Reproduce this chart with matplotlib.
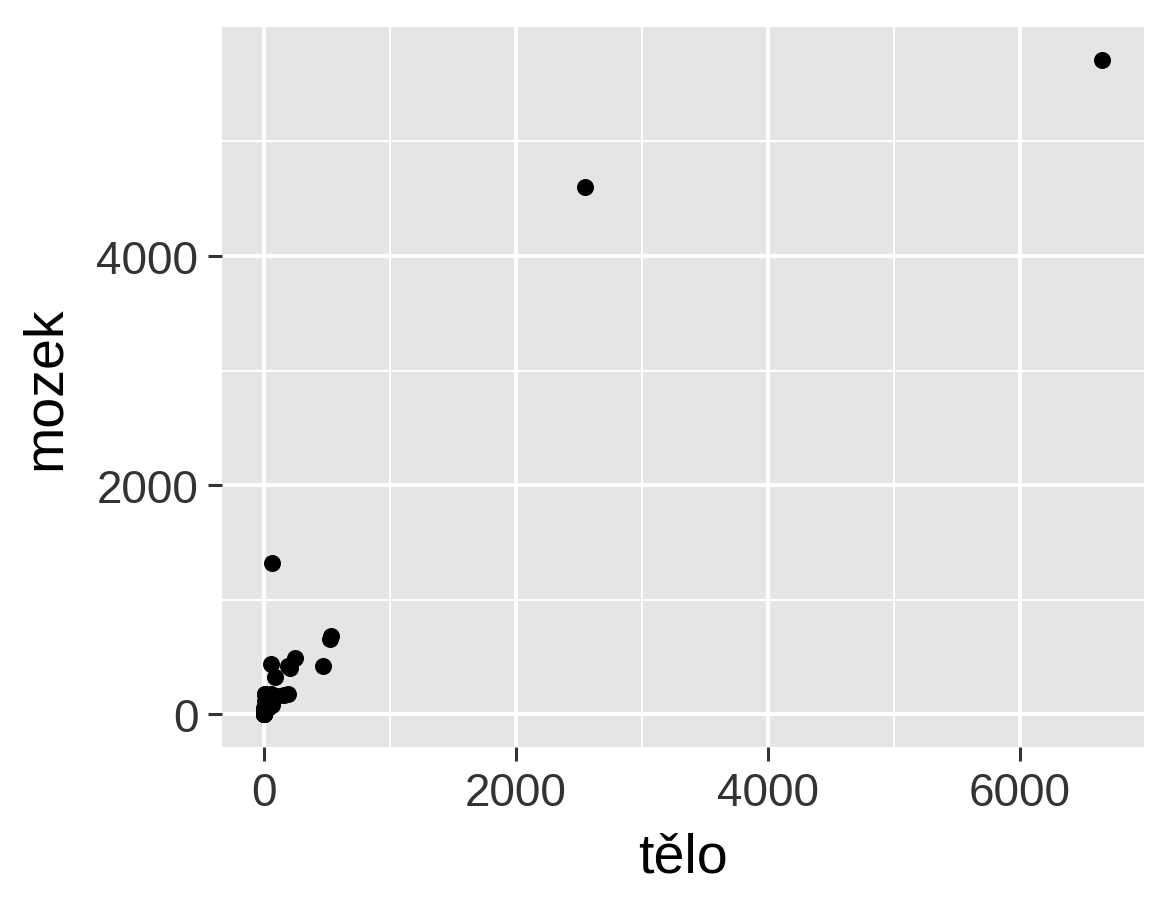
import matplotlib
matplotlib.use("Agg")
import matplotlib.pyplot as plt
from matplotlib.ticker import MultipleLocator

plt.rcParams['font.family'] = ['Liberation Sans', 'DejaVu Sans']

# MASS::mammals  (body kg, brain g)
telo = [3.385, 0.48, 1.35, 465, 36.33, 27.66, 14.83, 1.04, 4.19, 0.425,
        0.101, 0.92, 1, 0.005, 0.06, 3.5, 2, 1.7, 2547, 0.023,
        187.1, 521, 0.785, 10, 3.3, 0.2, 1.41, 529, 207, 85,
        0.75, 62, 6654, 3.5, 6.8, 35, 4.05, 0.12, 0.023, 0.01,
        1.4, 250, 2.5, 55.5, 100, 52.16, 10.55, 0.55, 60, 3.6,
        4.288, 0.28, 0.075, 0.122, 0.048, 192, 3, 160, 0.9, 1.62,
        0.104, 4.235]
mozek = [44.5, 15.5, 8.1, 423, 119.5, 115, 98.2, 5.5, 58, 6.4,
         4, 5.7, 6.6, 0.14, 1, 10.8, 12.3, 6.3, 4603, 0.3,
         419, 655, 3.5, 115, 25.6, 5, 17.5, 680, 406, 325,
         12.3, 1320, 5712, 3.9, 179, 56, 17, 1, 0.4, 0.25,
         12.5, 490, 12.1, 175, 157, 440, 179.5, 2.4, 81, 21,
         39.2, 1.9, 1.2, 3, 0.33, 180, 25, 169, 2.6, 11.4,
         2.5, 50.4]

fig = plt.figure(figsize=(11.73, 9.12), dpi=100)
ax = fig.add_axes([0.1893, 0.1798, 0.786, 0.7895])
ax.set_facecolor("#E5E5E5")

ax.scatter(telo, mozek, s=150, color="black", linewidths=0, zorder=3)

def expand(vals):
    lo, hi = min(vals), max(vals)
    d = (hi - lo) * 0.05
    return lo - d, hi + d

ax.set_xlim(*expand(telo))
ax.set_ylim(*expand(mozek))

ax.xaxis.set_major_locator(MultipleLocator(2000))
ax.yaxis.set_major_locator(MultipleLocator(2000))
ax.xaxis.set_minor_locator(MultipleLocator(1000))
ax.yaxis.set_minor_locator(MultipleLocator(1000))

ax.grid(which="major", color="white", linewidth=2.8)
ax.grid(which="minor", color="white", linewidth=1.4)
ax.set_axisbelow(True)

for s in ax.spines.values():
    s.set_visible(False)

ax.tick_params(which="major", length=10, width=2.2, color="#333333",
               labelsize=33, labelcolor="#333333", pad=7)
ax.tick_params(which="minor", length=0)

ax.set_xlabel("tělo", fontsize=40, labelpad=12)
ax.set_ylabel("mozek", fontsize=40, labelpad=18)

fig.savefig("out.png", dpi=100)
